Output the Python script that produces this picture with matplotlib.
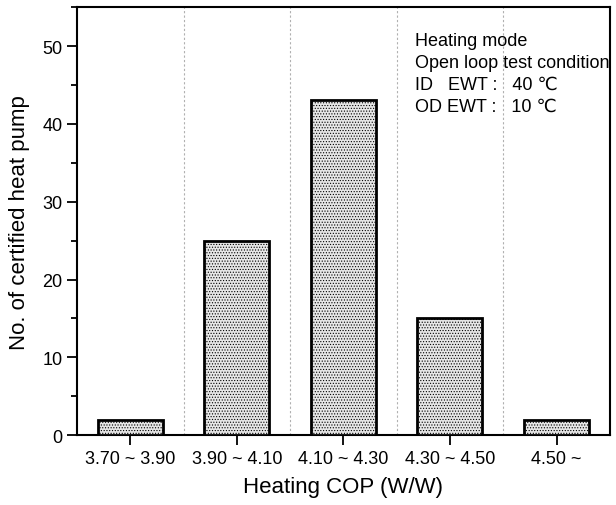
import matplotlib
matplotlib.use("Agg")
import matplotlib.pyplot as plt
from matplotlib.ticker import MultipleLocator

plt.rcParams['font.family'] = ['Liberation Sans', 'DejaVu Sans']
plt.rcParams['hatch.color'] = '#b4b4b4'
plt.rcParams['hatch.linewidth'] = 0.5

categories = ['3.70 ~ 3.90', '3.90 ~ 4.10', '4.10 ~ 4.30', '4.30 ~ 4.50', '4.50 ~']
counts = [2, 25, 43, 15, 2]
note_lines = ['Heating mode', 'Open loop test condition',
              'ID   EWT :   40 \u2103', 'OD EWT :   10 \u2103']

fig = plt.figure(figsize=(6.16, 5.06), dpi=100)
ax = fig.add_axes([0.125, 0.138, 0.865, 0.846])

x = range(len(categories))
ax.bar(x, counts, width=0.61, facecolor='#e6e6e6', edgecolor='black',
       linewidth=2, hatch='......', zorder=3)

# dotted separators between classes
for xv in [0.5, 1.5, 2.5, 3.5]:
    ax.axvline(xv, color='#b0b0b0', lw=0.8, ls=(0, (2, 2)), zorder=1)

ax.set_xlim(-0.5, 4.5)
ax.set_ylim(0, 55)
ax.set_xticks(list(x))
ax.set_xticklabels(categories)
ax.yaxis.set_major_locator(MultipleLocator(10))
ax.yaxis.set_minor_locator(MultipleLocator(5))
ax.tick_params(axis='both', which='major', direction='out', length=7, width=1.3, labelsize=13)
ax.tick_params(axis='y', which='minor', direction='out', length=4, width=1.3)
for s in ax.spines.values():
    s.set_linewidth(1.5)

ax.set_xlabel('Heating COP (W/W)', fontsize=16, labelpad=7)
ax.set_ylabel('No. of certified heat pump', fontsize=16, labelpad=9)

ax.text(0.635, 0.942, '\n'.join(note_lines), transform=ax.transAxes,
        fontsize=13, va='top', ha='left', linespacing=1.38)

fig.savefig('out.png', dpi=100)
